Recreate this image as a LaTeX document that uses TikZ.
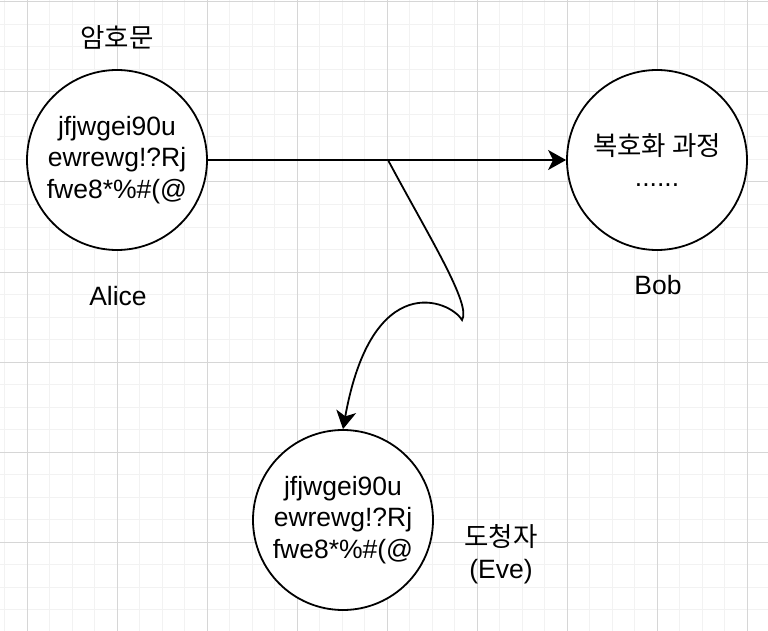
\documentclass[tikz,border=0pt]{standalone}
\usepackage{fontspec}
\setmainfont{Liberation Sans}
\newfontfamily\krfont{Noto Sans CJK KR}
\usetikzlibrary{arrows.meta, positioning}
\definecolor{gridminor}{RGB}{242, 242, 242}
\definecolor{gridmajor}{RGB}{214, 214, 214}
\tikzset{
    party/.style={circle, draw=black, line width=1.8pt, fill=white, minimum size=180pt, inner sep=0pt, align=center, font=\fontsize{26.5}{31.5}\selectfont},
    tag/.style={align=center, inner sep=0pt, font=\fontsize{26.5}{31.5}\selectfont},
    arr/.style={-{Stealth[length=18pt, width=20pt, inset=5pt]}, line width=1.8pt, black}
}

\begin{document}
\begin{tikzpicture}[x=1pt, y=-1pt]
                \useasboundingbox (0,0) rectangle (768,631);
                \fill[white] (0,0) rectangle (768,631);
                % grid
                \foreach \x in {4.5,27,...,768} \draw[gridminor, line width=1pt] (\x,0) -- (\x,631);
                \foreach \y in {2,24.5,...,631} \draw[gridminor, line width=1pt] (0,\y) -- (768,\y);
                \foreach \x in {27,117,...,768} \draw[gridmajor, line width=1pt] (\x,0) -- (\x,631);
                \foreach \y in {2,92,...,631} \draw[gridmajor, line width=1pt] (0,\y) -- (768,\y);
                % parties
                \node[party] (alice) at (117,160) {jfjwgei90u\\ewrewg!?Rj\\fwe8*\%\#(@};
                \node[party] (bob) at (657,160) {\krfont 복호화 과정\\......};
                \node[party] (eve) at (343,520) {jfjwgei90u\\ewrewg!?Rj\\fwe8*\%\#(@};
                \node[tag] (cipher) at (117,37) {\krfont 암호문};
                \node[tag] (alicename) at (118,296) {Alice};
                \node[tag] (bobname) at (658,285) {Bob};
                \node[tag] (evename) at (501,554) {{\krfont 도청자}\\(Eve)};
                % messages
                \coordinate (tap) at (388,160);
                \draw[arr] (tap) .. controls (428,235) and (472,305) .. (462,320)
                    .. controls (450,300) and (372,268) .. (eve.north);
                \draw[arr] (alice)--(bob);
\end{tikzpicture}
\end{document}
